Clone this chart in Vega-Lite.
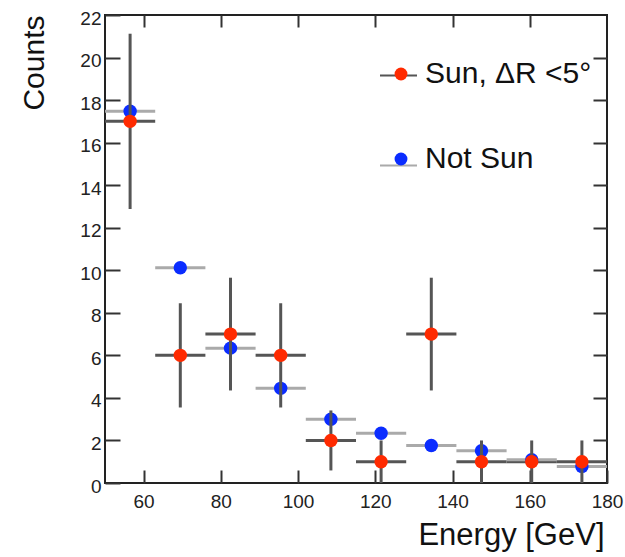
{
  "$schema": "https://vega.github.io/schema/vega-lite/v6.json",
  "width": 502,
  "height": 468,
  "autosize": {"type": "none"},
  "padding": {"left": 105, "top": 15, "right": 18, "bottom": 74},
  "background": "white",
  "config": {
    "view": {"stroke": "#222", "strokeWidth": 2},
    "font": "Liberation Sans",
    "axis": {"grid": false, "domain": false, "labelFont": "Liberation Sans", "titleFont": "Liberation Sans", "labelColor": "#222", "titleColor": "#111", "tickColor": "#333", "tickWidth": 2, "labelFlush": false, "labelOverlap": false, "titleFontWeight": "normal"},
    "legend": {"padding": 0, "labelLimit": 0}
  },
  "data": {"values": [
    {"series": "Sun, ΔR <5°", "bar": "Sun, ΔR <5°", "e": 56.5, "elo": 50, "ehi": 63, "c": 17, "clo": 12.88, "chi": 21.12},
    {"series": "Sun, ΔR <5°", "bar": "Sun, ΔR <5°", "e": 69.5, "elo": 63, "ehi": 76, "c": 6, "clo": 3.55, "chi": 8.45},
    {"series": "Sun, ΔR <5°", "bar": "Sun, ΔR <5°", "e": 82.5, "elo": 76, "ehi": 89, "c": 7, "clo": 4.35, "chi": 9.65},
    {"series": "Sun, ΔR <5°", "bar": "Sun, ΔR <5°", "e": 95.5, "elo": 89, "ehi": 102, "c": 6, "clo": 3.55, "chi": 8.45},
    {"series": "Sun, ΔR <5°", "bar": "Sun, ΔR <5°", "e": 108.5, "elo": 102, "ehi": 115, "c": 2, "clo": 0.59, "chi": 3.41},
    {"series": "Sun, ΔR <5°", "bar": "Sun, ΔR <5°", "e": 121.5, "elo": 115, "ehi": 128, "c": 1, "clo": 0, "chi": 2},
    {"series": "Sun, ΔR <5°", "bar": "Sun, ΔR <5°", "e": 134.5, "elo": 128, "ehi": 141, "c": 7, "clo": 4.35, "chi": 9.65},
    {"series": "Sun, ΔR <5°", "bar": "Sun, ΔR <5°", "e": 147.5, "elo": 141, "ehi": 154, "c": 1, "clo": 0, "chi": 2},
    {"series": "Sun, ΔR <5°", "bar": "Sun, ΔR <5°", "e": 160.5, "elo": 154, "ehi": 167, "c": 1, "clo": 0, "chi": 2},
    {"series": "Sun, ΔR <5°", "bar": "Sun, ΔR <5°", "e": 173.5, "elo": 167, "ehi": 180, "c": 1, "clo": 0, "chi": 2},
    {"series": "Not Sun", "bar": "Not Sun", "e": 56.5, "elo": 50, "ehi": 63, "c": 17.48, "clo": 17.48, "chi": 17.48},
    {"series": "Not Sun", "bar": "Not Sun", "e": 69.5, "elo": 63, "ehi": 76, "c": 10.12, "clo": 10.12, "chi": 10.12},
    {"series": "Not Sun", "bar": "Not Sun", "e": 82.5, "elo": 76, "ehi": 89, "c": 6.34, "clo": 6.34, "chi": 6.34},
    {"series": "Not Sun", "bar": "Not Sun", "e": 95.5, "elo": 89, "ehi": 102, "c": 4.45, "clo": 4.45, "chi": 4.45},
    {"series": "Not Sun", "bar": "Not Sun", "e": 108.5, "elo": 102, "ehi": 115, "c": 3.0, "clo": 3.0, "chi": 3.0},
    {"series": "Not Sun", "bar": "Not Sun", "e": 121.5, "elo": 115, "ehi": 128, "c": 2.34, "clo": 2.34, "chi": 2.34},
    {"series": "Not Sun", "bar": "Not Sun", "e": 134.5, "elo": 128, "ehi": 141, "c": 1.76, "clo": 1.76, "chi": 1.76},
    {"series": "Not Sun", "bar": "Not Sun", "e": 147.5, "elo": 141, "ehi": 154, "c": 1.52, "clo": 1.52, "chi": 1.52},
    {"series": "Not Sun", "bar": "Not Sun", "e": 160.5, "elo": 154, "ehi": 167, "c": 1.09, "clo": 1.09, "chi": 1.09},
    {"series": "Not Sun", "bar": "Not Sun", "e": 173.5, "elo": 167, "ehi": 180, "c": 0.78, "clo": 0.78, "chi": 0.78}
  ]},
  "resolve": {"scale": {"x": "shared", "y": "shared"}, "axis": {"x": "independent", "y": "independent"}},
  "layer": [
    {
      "mark": {"type": "rule", "strokeWidth": 3},
      "encoding": {
        "x": {"field": "elo", "type": "quantitative", "scale": {"domain": [50, 180], "nice": false, "zero": false},
              "axis": {"orient": "bottom", "values": [60, 80, 100, 120, 140, 160, 180], "tickSize": -13, "labelFontSize": 19, "labelPadding": 22,
                       "title": "Energy [GeV]", "titleFontSize": 31, "titleAnchor": "end", "titleAlign": "right", "titleBaseline": "alphabetic", "titleX": 499, "titleY": 61}},
        "x2": {"field": "ehi"},
        "y": {"field": "c", "type": "quantitative", "scale": {"domain": [0, 22], "nice": false},
              "axis": {"orient": "left", "values": [0, 2, 4, 6, 8, 10, 12, 14, 16, 18, 20, 22], "tickSize": -15, "labelFontSize": 19, "labelPadding": 19, "labelOffset": 3,
                       "title": "Counts", "titleFontSize": 30, "titleAngle": -90, "titleAlign": "right", "titleBaseline": "alphabetic", "titleX": -62, "titleY": 0}},
        "stroke": {"field": "bar", "type": "nominal", "sort": "descending", "scale": {"range": ["#555555", "#aaaaaa"]},
                   "legend": {"orient": "none", "legendX": 274, "legendY": 41, "symbolType": "stroke", "symbolSize": 1369, "symbolStrokeWidth": 2, "labelFontSize": 30, "labelOpacity": 0, "labelExpr": "''", "title": null, "rowPadding": 55, "labelOffset": 10}}
      }
    },
    {
      "transform": [{"filter": "datum.series === 'Not Sun'"}],
      "mark": {"type": "point", "shape": "circle", "filled": true, "opacity": 1, "size": 180},
      "encoding": {
        "x": {"field": "e", "type": "quantitative", "axis": {"orient": "top", "values": [60, 80, 100, 120, 140, 160], "tickSize": -12, "labels": false, "title": null}},
        "y": {"field": "c", "type": "quantitative", "axis": {"orient": "right", "values": [2, 4, 6, 8, 10, 12, 14, 16, 18, 20], "tickSize": -14, "labels": false, "title": null}},
        "fill": {"field": "series", "type": "nominal", "scale": {"domain": ["Sun, ΔR <5°", "Not Sun"], "range": ["#ff2a00", "#0a2cff"]},
                 "legend": {"orient": "none", "legendX": 281, "legendY": 44, "symbolType": "circle", "symbolSize": 165, "symbolStrokeWidth": 0, "labelFontSize": 30, "labelColor": "#111", "labelFont": "Liberation Sans", "title": null, "rowPadding": 55, "labelOffset": 9}}
      }
    },
    {
      "transform": [{"filter": "datum.series !== 'Not Sun'"}],
      "mark": {"type": "rule", "strokeWidth": 3},
      "encoding": {
        "x": {"field": "e", "type": "quantitative", "axis": null},
        "y": {"field": "clo", "type": "quantitative", "axis": null},
        "y2": {"field": "chi"},
        "stroke": {"field": "bar", "type": "nominal", "sort": "descending"}
      }
    },
    {
      "transform": [{"filter": "datum.series !== 'Not Sun'"}],
      "mark": {"type": "point", "shape": "circle", "filled": true, "opacity": 1, "size": 180},
      "encoding": {
        "x": {"field": "e", "type": "quantitative", "axis": null},
        "y": {"field": "c", "type": "quantitative", "axis": null},
        "fill": {"field": "series", "type": "nominal"}
      }
    }
  ]
}
